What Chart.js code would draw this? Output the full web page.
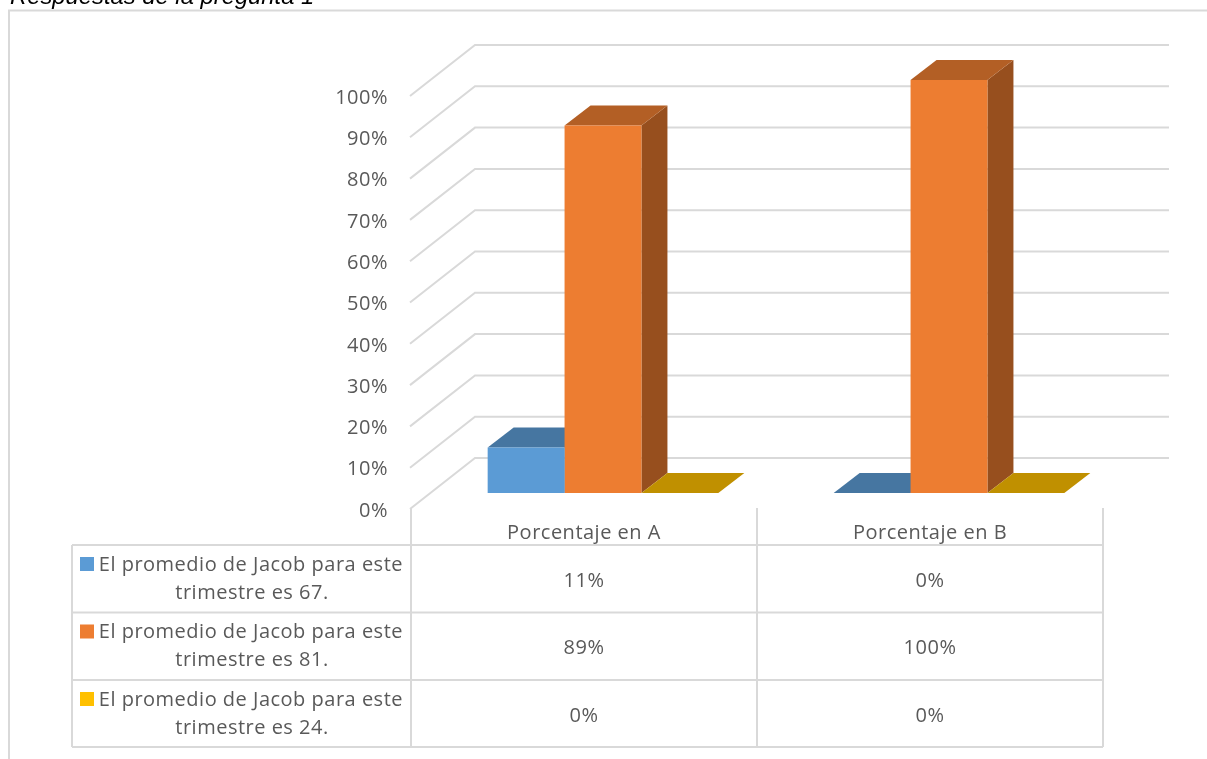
<!DOCTYPE html>
<html><head><meta charset="utf-8">
<style>html,body{margin:0;padding:0;background:#fff}canvas{display:block}</style>
<script src="https://cdn.jsdelivr.net/npm/chart.js@4"></script>
</head><body>
<canvas id="c" width="1207" height="759"></canvas>
<script>
const titleText = "Respuestas de la pregunta 1";
const categories = ["Porcentaje en A", "Porcentaje en B"];
const seriesNames = [
  ["El promedio de Jacob para este", "trimestre es 67."],
  ["El promedio de Jacob para este", "trimestre es 81."],
  ["El promedio de Jacob para este", "trimestre es 24."]
];
const series67 = [11, 0];
const series81 = [89, 100];
const series24 = [0, 0];
const seriesValues = [series67, series81, series24];
const frontColors = ["#5B9BD5", "#ED7D31", "#FFC000"];
const topColors = ["#4676A1", "#B35F25", "#C09000"];
const sideColors = ["#3A618A", "#974F1E", "#A07800"];

const FONT = '"Open Sans"';
const TEXT = "#595959", LINE = "#D9D9D9";
const barDX = 26, barDY = 20;      // depth of a bar
const wallDX = 45, wallDY = 35;    // back wall relative to the bar plane
const floorDX = 20, floorDY = 16;  // front edge of the side wall relative to the bar plane

function poly(ctx, pts, fill) {
  ctx.beginPath();
  pts.forEach((p, i) => i ? ctx.lineTo(p[0], p[1]) : ctx.moveTo(p[0], p[1]));
  ctx.closePath();
  ctx.fillStyle = fill;
  ctx.fill();
}

const decor = {
  id: "decor",
  beforeDraw(chart) {
    chart.ctx.letterSpacing = "0.5px";
  },
  beforeDatasetsDraw(chart) {
    const ctx = chart.ctx, y = chart.scales.y, area = chart.chartArea;
    ctx.save();
    // frame
    ctx.strokeStyle = LINE; ctx.lineWidth = 2;
    ctx.beginPath(); ctx.moveTo(9, 759); ctx.lineTo(9, 10.5); ctx.lineTo(1207, 10.5); ctx.stroke();
    // title
    ctx.letterSpacing = "0px";
    ctx.fillStyle = "#000"; ctx.font = 'italic 23.8px "Liberation Sans"';
    ctx.textAlign = "left"; ctx.textBaseline = "alphabetic";
    ctx.fillText(titleText, 10, 4);
    ctx.letterSpacing = "0.5px";
    // walls
    ctx.strokeStyle = LINE; ctx.lineWidth = 2;
    y.ticks.forEach(t => {
      const py = y.getPixelForValue(t.value);
      ctx.beginPath();
      ctx.moveTo(area.left - floorDX, py + floorDY);
      ctx.lineTo(area.left + wallDX, py - wallDY);
      ctx.lineTo(area.right + wallDX + 2, py - wallDY);
      ctx.stroke();
    });
    // bar depth faces
    chart.data.datasets.forEach((ds, d) => {
      chart.getDatasetMeta(d).data.forEach(bar => {
        const l = bar.x - bar.width / 2, r = bar.x + bar.width / 2, t = bar.y, b = bar.base;
        poly(ctx, [[r, t], [r + barDX, t - barDY], [r + barDX, b - barDY], [r, b]], sideColors[d]);
        poly(ctx, [[l, t], [l + barDX, t - barDY], [r + barDX, t - barDY], [r, t]], topColors[d]);
      });
    });
    ctx.restore();
  },
  afterDraw(chart) {
    const ctx = chart.ctx, area = chart.chartArea;
    const cell = (area.right - area.left) / categories.length;
    const xLeft = area.left - floorDX + 1;
    const rowLines = [545, 612.5, 680, 747];
    ctx.save();
    ctx.strokeStyle = LINE; ctx.lineWidth = 2;
    // verticals from the axis down
    for (let i = 0; i <= categories.length; i++) {
      ctx.beginPath();
      ctx.moveTo(xLeft + i * cell, 508); ctx.lineTo(xLeft + i * cell, rowLines[3]); ctx.stroke();
    }
    ctx.beginPath(); ctx.moveTo(72, rowLines[0]); ctx.lineTo(72, rowLines[3]); ctx.stroke();
    rowLines.forEach(ly => {
      ctx.beginPath(); ctx.moveTo(72, ly); ctx.lineTo(xLeft + categories.length * cell, ly); ctx.stroke();
    });
    ctx.fillStyle = TEXT; ctx.font = "400 20px " + FONT;
    ctx.textBaseline = "middle"; ctx.textAlign = "center";
    categories.forEach((c, i) => ctx.fillText(c, xLeft + (i + .5) * cell, 533));
    seriesValues.forEach((vals, r) => {
      const my = (rowLines[r] + rowLines[r + 1]) / 2;
      vals.forEach((v, i) => ctx.fillText(v + "%", xLeft + (i + .5) * cell, my + 2.5));
      ctx.fillStyle = frontColors[r];
      ctx.fillRect(80, rowLines[r] + 12, 14, 14);
      ctx.fillStyle = TEXT;
      ctx.textAlign = "right";
      ctx.fillText(seriesNames[r][0], 403, rowLines[r] + 20);
      ctx.textAlign = "center";
      ctx.fillText(seriesNames[r][1], 252, rowLines[r] + 48);
    });
    ctx.restore();
  }
};

new Chart(document.getElementById("c"), {
  type: "bar",
  data: {
    labels: categories,
    datasets: seriesValues.map((vals, i) => ({
      label: seriesNames[i].join(" "),
      data: vals,
      backgroundColor: frontColors[i],
      borderWidth: 0,
      barPercentage: 1,
      categoryPercentage: 2 / 3
    }))
  },
  options: {
    responsive: false,
    animation: false,
    layout: { padding: { left: 0, right: 85, top: 80, bottom: 266 } },
    plugins: { legend: { display: false }, tooltip: { enabled: false }, title: { display: false } },
    scales: {
      x: { display: false },
      y: {
        min: 0, max: 100,
        border: { display: false },
        grid: { display: false, drawTicks: false },
        afterFit(s) { s.width = 430; },
        ticks: {
          stepSize: 10,
          autoSkip: false,
          padding: 42,
          color: TEXT,
          font: { family: "Open Sans", size: 20, lineHeight: 36 / 20 },
          callback: v => ["", v + "%"]
        }
      }
    }
  },
  plugins: [decor]
});
</script>
</body></html>
